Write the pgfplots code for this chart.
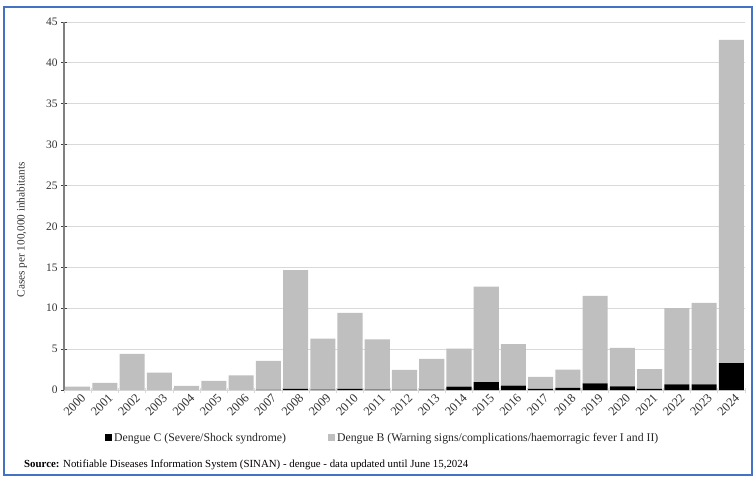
\documentclass[border=0pt]{standalone}
\usepackage{fontspec}
\setmainfont{Liberation Serif}
\usepackage{pgfplots}
\pgfplotsset{compat=1.18}
\definecolor{barB}{HTML}{BFBFBF}
\definecolor{gridc}{HTML}{D9D9D9}
\definecolor{axc}{HTML}{808080}
\definecolor{framec}{HTML}{4472C4}
\begin{document}
\begin{tikzpicture}
\path[use as bounding box] (-64bp,-91bp) rectangle (692bp,390bp);
\draw[framec, line width=1.2bp] (-60bp,-85bp) rectangle (688bp,383bp);
\begin{axis}[
  at={(0,0)}, anchor=south west,
  scale only axis, width=681bp, height=368bp,
  ybar stacked, bar width=0.92,
  xmin=-0.5, xmax=24.5, ymin=0, ymax=45,
  xtick=data,
  xticklabels={2000,2001,2002,2003,2004,2005,2006,2007,2008,2009,2010,2011,2012,2013,2014,2015,2016,2017,2018,2019,2020,2021,2022,2023,2024},
  xticklabel style={rotate=45, anchor=north east, inner sep=1pt, xshift=3bp, yshift=-1bp, font=\fontsize{12.5}{13}\selectfont, text=black!80},
  major x tick style={draw=none},
  minor xtick={-0.5,0.5,...,24.5},
  minor x tick style={draw=gridc, line width=0.8bp},
  minor tick length=5bp,
  ytick={0,5,...,45},
  yticklabel style={font=\fontsize{11.5}{12}\selectfont, text=black!80},
  /pgf/number format/assume math mode=true,
  y tick style={draw=black!75, line width=0.8bp},
  major tick length=6bp,
  tick align=center,
  ymajorgrids, grid style={draw=gridc, line width=0.8bp},
  axis x line*=bottom, axis y line*=left,
  x axis line style={draw=gridc, line width=0.9bp, -},
  y axis line style={draw=axc, line width=1.6bp, -},
  ylabel={Cases per 100,000 inhabitants},
  ylabel style={font=\fontsize{11.3}{12}\selectfont, text=black!80, at={(axis description cs:-0.0617,0.435)}, anchor=center, rotate=0},
  legend columns=2,
  legend style={at={(0.468,-0.130)}, anchor=center, draw=none, font=\fontsize{11.8}{13}\selectfont, text=black!85,
    /tikz/every even column/.append style={column sep=40bp}},
  legend image code/.code={\fill (0bp,-3.5bp) rectangle (7bp,3.5bp);},
]
\addplot[fill=black, draw=none] coordinates {
(0,0) (1,0) (2,0) (3,0) (4,0) (5,0) (6,0) (7,0.02) (8,0.15) (9,0.05) (10,0.15) (11,0.05) (12,0.03) (13,0.05) (14,0.4) (15,0.95) (16,0.55) (17,0.15) (18,0.25) (19,0.8) (20,0.45) (21,0.15) (22,0.7) (23,0.7) (24,3.3)};
\addlegendentry{Dengue C (Severe/Shock syndrome)}
\addplot[fill=barB, draw=none] coordinates {
(0,0.42) (1,0.86) (2,4.42) (3,2.14) (4,0.5) (5,1.11) (6,1.8) (7,3.54) (8,14.5) (9,6.22) (10,9.27) (11,6.14) (12,2.42) (13,3.75) (14,4.66) (15,11.7) (16,5.05) (17,1.45) (18,2.25) (19,10.7) (20,4.7) (21,2.4) (22,9.3) (23,9.95) (24,39.5)};
\addlegendentry{Dengue B (Warning signs/complications/haemorragic fever I and II)}
\end{axis}
\node[anchor=west, font=\fontsize{10.9}{12}\selectfont, inner sep=0pt] at (-40bp,-75bp) {\textbf{Source:} Notifiable Diseases Information System (SINAN) - dengue - data updated until June 15,2024};
\end{tikzpicture}
\end{document}
